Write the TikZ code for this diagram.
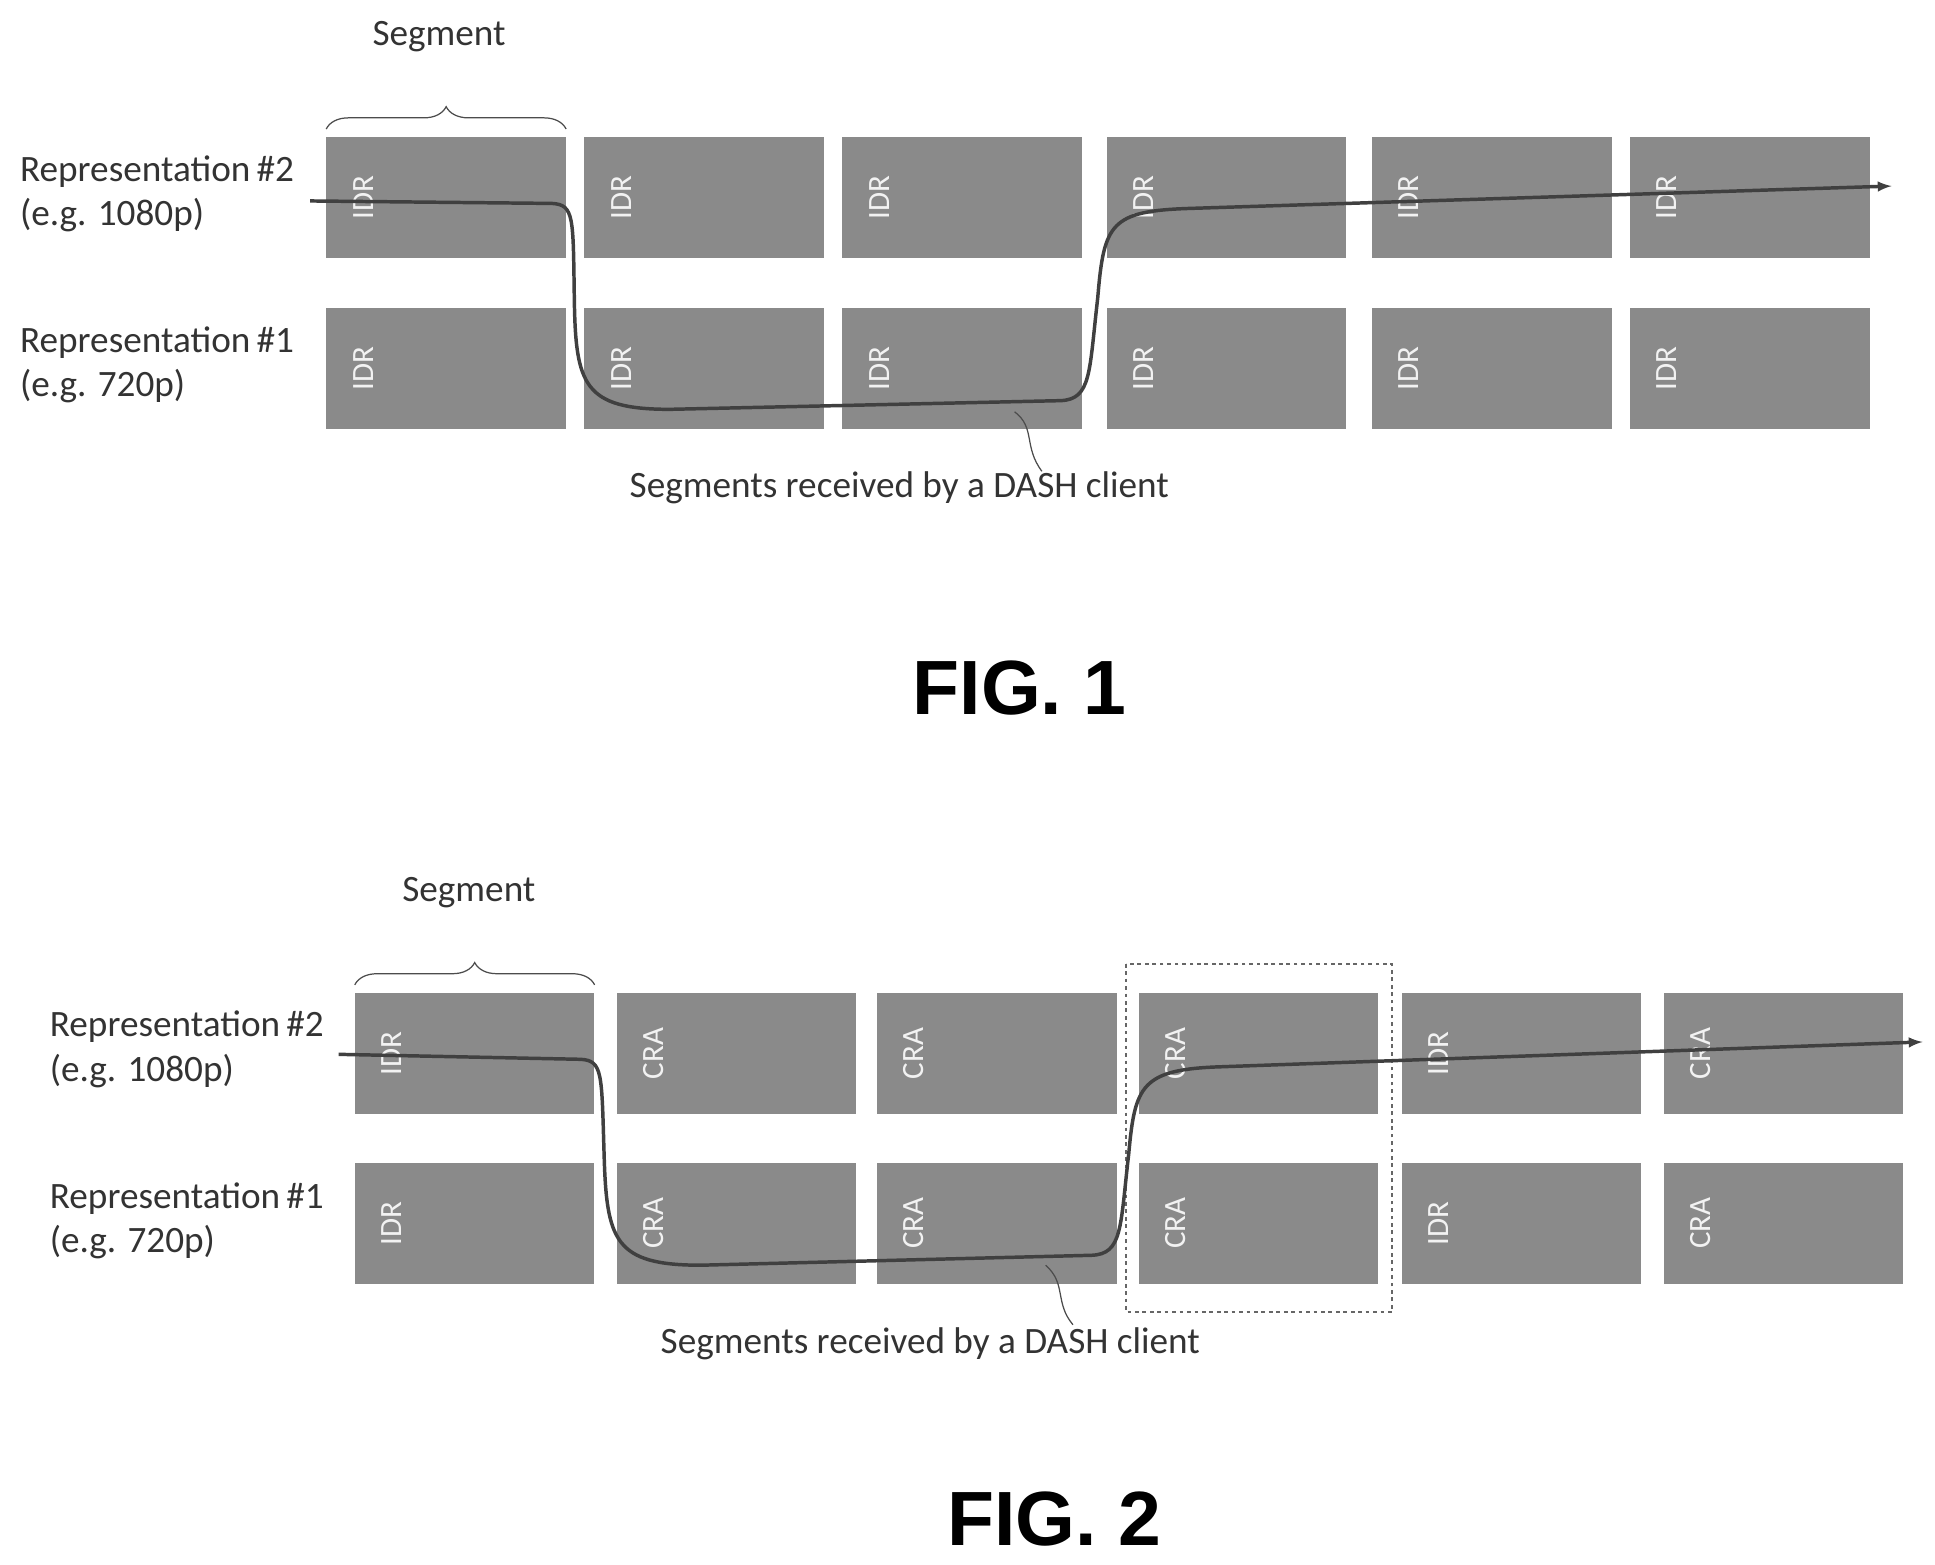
\documentclass[tikz,border=0pt]{standalone}
\usepackage{fontspec}
\setmainfont{Carlito}
\newfontfamily\figfont{Liberation Sans}
\usetikzlibrary{decorations.pathreplacing}
\definecolor{segfill}{HTML}{8A8A8A}
\tikzset{
  seg/.style={fill=segfill,draw=none,minimum width=193pt,minimum height=98pt,inner sep=0pt},
  tag/.style={rotate=90,text=white!90!gray,font=\fontsize{25}{25}\selectfont},
  lab/.style={align=left,anchor=north west,text=black!80,font=\fontsize{30}{36}\selectfont,inner sep=0pt},
  path/.style={line width=2.8pt,draw=black!75,-latex},
  brc/.style={decorate,decoration={brace,amplitude=18pt},line width=1pt,black!70},
}
\begin{document}
\begin{tikzpicture}[x=1pt,y=-1pt]
	\useasboundingbox (0,0) rectangle (1560,1261);
	% fig 1
	\foreach \i/\x/\t in {1/263/IDR,2/471/IDR,3/679/IDR,4/892/IDR,5/1106/IDR,6/1314/IDR}{
		\node[seg,anchor=north west] (a\i) at (\x,110) {};
		\node[tag] at ([xshift=-67pt]a\i.center) {\t};
		\node[seg,anchor=north west] (b\i) at (\x,248) {};
		\node[tag] at ([xshift=-67pt]b\i.center) {\t};
	}
	\draw[brc] ([yshift=6pt]a1.north west) -- ([yshift=6pt]a1.north east);
	\node[lab,anchor=south] (s1) at (354,42) {Segment};
	\node[lab] (r2) at (16,125) {Representation\,\#2\\(e.g. 1080p)};
	\node[lab] (r1) at (16,263) {Representation\,\#1\\(e.g. 720p)};
	\draw[path] (250,162) -- (445,164) .. controls (463,165) and (462,175) .. (463,240)
		.. controls (464,310) and (470,330) .. (540,330) -- (855,323)
		.. controls (880,322) and (878,300) .. (885,240) .. controls (890,180) and (895,170) .. (960,168)
		-- (1525,150);
	\node[lab,anchor=north] (c1) at (725,380) {Segments received by a DASH client};
	\draw[line width=1pt,black!70] (818,332) .. controls (835,345) and (825,360) .. (840,380);
	\node[font=\figfont\bfseries\fontsize{62}{62}\selectfont] (f1) at (822,555) {FIG. 1};
	% fig 2
	\foreach \i/\x/\t/\u in {1/286/IDR/IDR,2/497/CRA/CRA,3/707/CRA/CRA,4/918/CRA/CRA,5/1130/IDR/IDR,6/1341/CRA/CRA}{
		\node[seg,anchor=north west] (c\i) at (\x,800) {};
		\node[tag] at ([xshift=-67pt]c\i.center) {\t};
		\node[seg,anchor=north west] (d\i) at (\x,937) {};
		\node[tag] at ([xshift=-67pt]d\i.center) {\u};
	}
	\draw[brc] ([yshift=6pt]c1.north west) -- ([yshift=6pt]c1.north east);
	\node[lab,anchor=south] (s2) at (378,732) {Segment};
	\node[lab] (r4) at (40,815) {Representation\,\#2\\(e.g. 1080p)};
	\node[lab] (r3) at (40,953) {Representation\,\#1\\(e.g. 720p)};
	\draw[dashed,line width=1.5pt,black!60] (908,777) rectangle (1122,1058);
	\draw[path] (273,850) -- (468,854) .. controls (486,855) and (485,865) .. (487,930)
		.. controls (489,1000) and (495,1020) .. (565,1020) -- (880,1012)
		.. controls (905,1011) and (903,990) .. (910,930) .. controls (915,875) and (920,862) .. (985,860)
		-- (1550,840);
	\node[lab,anchor=north] (c2) at (750,1070) {Segments received by a DASH client};
	\draw[line width=1pt,black!70] (843,1020) .. controls (860,1035) and (850,1050) .. (865,1068);
	\node[font=\figfont\bfseries\fontsize{62}{62}\selectfont] (f2) at (850,1225) {FIG. 2};
\end{tikzpicture}
\end{document}
